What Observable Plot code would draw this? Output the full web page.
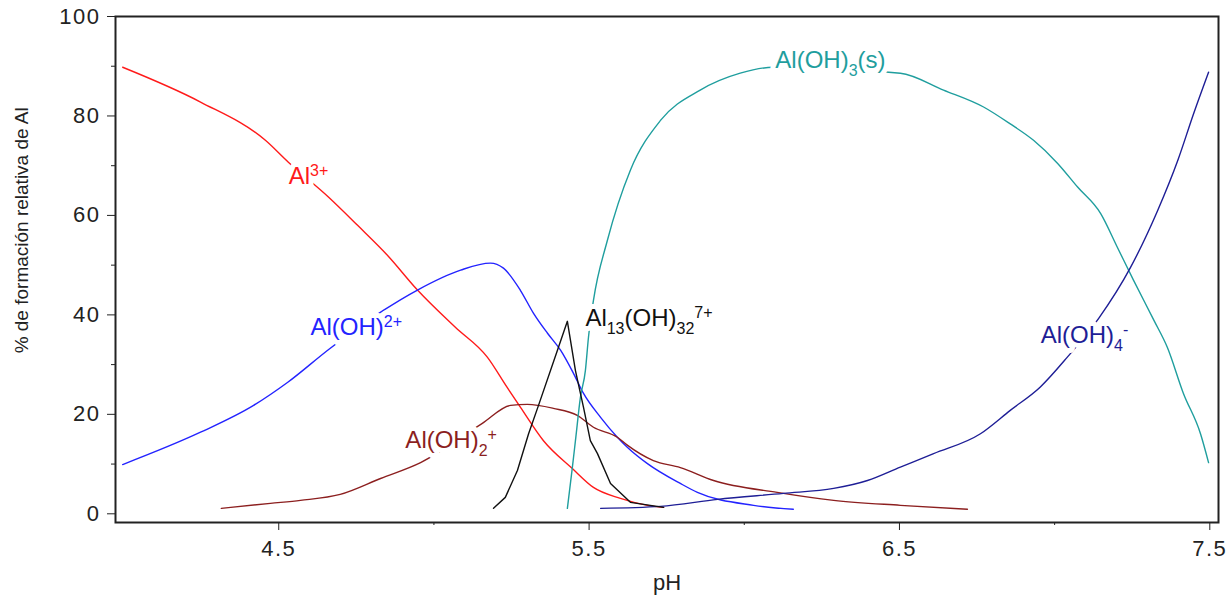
<!DOCTYPE html>
<html><head><meta charset="utf-8">
<script src="https://cdn.jsdelivr.net/npm/d3@7"></script>
<script src="https://cdn.jsdelivr.net/npm/@observablehq/plot@0.6"></script>
<style>body{margin:0;background:#fff;}</style>
</head><body><div id="chart"></div>
<script>
// ---- data (pH, % relative formation) ----
const speciesNames = ["Al3+", "AlOH2+", "Al(OH)2+", "Al13", "Al(OH)3(s)", "Al(OH)4-"];
const speciesColors = ["#ff1a1a", "#2323ff", "#8c1f1f", "#111111", "#1f9e9e", "#1e1e96"];

const phAl3  = [3.997, 4.248, 4.457, 4.531, 4.660, 4.754, 4.850, 4.947, 5.069, 5.172, 5.236, 5.279, 5.353, 5.446, 5.514, 5.601, 5.688, 5.740];
const pctAl3 = [89.8, 82.8, 75.1, 70.7, 63.7, 58.0, 52.0, 45.0, 37.5, 31.5, 25.4, 21.4, 14.7, 9.1, 5.3, 3.1, 1.7, 1.3];

const phAlOH  = [3.997, 4.248, 4.419, 4.528, 4.664, 4.837, 4.947, 5.086, 5.182, 5.224, 5.279, 5.321, 5.366, 5.408, 5.450, 5.482, 5.537, 5.591, 5.623, 5.688, 5.794, 5.849, 6.030, 6.158];
const pctAlOH = [9.9, 16.4, 21.8, 26.4, 33.2, 40.9, 45.0, 49.0, 50.4, 49.4, 44.9, 40.3, 36.3, 32.9, 28.2, 24.2, 19.4, 15.4, 13.4, 10.1, 6.1, 4.3, 1.7, 0.9];

const phAlOH2  = [4.315, 4.473, 4.570, 4.698, 4.828, 4.957, 5.156, 5.247, 5.301, 5.385, 5.462, 5.514, 5.591, 5.623, 5.707, 5.794, 5.901, 6.106, 6.288, 6.503, 6.719];
const pctAlOH2 = [1.1, 2.1, 2.7, 3.9, 7.1, 10.3, 18.2, 21.8, 22.0, 21.2, 19.8, 17.4, 15.4, 13.8, 10.7, 9.3, 6.7, 4.3, 2.7, 1.7, 0.9];

const phAl13  = [5.192, 5.230, 5.269, 5.305, 5.337, 5.398, 5.430, 5.456, 5.482, 5.504, 5.527, 5.569, 5.633, 5.740];
const pctAl13 = [1.1, 3.3, 8.7, 16.1, 21.8, 32.9, 38.7, 28.8, 21.4, 14.7, 12.1, 6.1, 2.3, 1.3];

const phAlOH3s  = [5.430, 5.446, 5.456, 5.472, 5.488, 5.498, 5.514, 5.559, 5.633, 5.730, 5.858, 5.987, 6.094, 6.503, 6.642, 6.771, 6.857, 6.932, 7.009, 7.074, 7.148, 7.202, 7.254, 7.320, 7.363, 7.415, 7.470, 7.496];
const pctAlOH3s = [1.1, 9.3, 14.7, 23.4, 28.8, 35.5, 42.9, 55.0, 69.1, 79.1, 85.2, 88.6, 89.8, 88.6, 85.2, 81.8, 78.4, 75.1, 70.5, 65.7, 60.4, 53.6, 47.0, 38.9, 33.5, 24.2, 16.1, 10.3];

const phAlOH4  = [5.537, 5.730, 5.914, 6.126, 6.288, 6.397, 6.503, 6.610, 6.761, 6.857, 6.954, 7.041, 7.142, 7.245, 7.332, 7.397, 7.448, 7.496];
const pctAlOH4 = [1.1, 1.5, 2.9, 4.1, 5.1, 6.7, 9.4, 12.1, 16.1, 20.8, 25.5, 31.5, 39.3, 49.6, 61.0, 71.1, 80.5, 88.8];

// in-plot labels (^{..} superscript, _{..} subscript)
const labelText = ["Al^{3+}", "Al(OH)^{2+}", "Al(OH)_{2}^{+}", "Al_{13}(OH)_{32}^{7+}", "Al(OH)_{3}(s)", "Al(OH)_{4}^{-}"];
const labelPH   = [4.532, 4.602, 4.908, 5.488, 6.100, 6.955];
const labelPct  = [67.9, 37.4, 14.7, 39.4, 91.1, 35.8];

const xMajorTicks = [4.5, 5.5, 6.5, 7.5];
const xMinorTicks = [5.0, 6.0, 7.0];
const yMajorTicks = [0, 20, 40, 60, 80, 100];
const yMinorTicks = [10, 30, 50, 70, 90];

// ---- build tables ----
const seriesPH  = [phAl3, phAlOH, phAlOH2, phAl13, phAlOH3s, phAlOH4];
const seriesPct = [pctAl3, pctAlOH, pctAlOH2, pctAl13, pctAlOH3s, pctAlOH4];
const rows = [];
seriesPH.forEach((arr, s) => arr.forEach((p, i) => rows.push({species: speciesNames[s], ph: p, pct: seriesPct[s][i]})));
const smoothRows = rows.filter(d => d.species !== "Al13");
const peakRows = rows.filter(d => d.species === "Al13");
const labels = labelText.map((t, i) => ({text: t, ph: labelPH[i], pct: labelPct[i], species: speciesNames[i]}));

const font = "'Liberation Sans', Arial, Helvetica, sans-serif";

const plot = Plot.plot({
  width: 1231, height: 596,
  marginLeft: 115, marginRight: 13, marginTop: 16, marginBottom: 74,
  style: {fontFamily: font, background: "#fff", color: "#222", overflow: "visible"},
  x: {domain: [3.974, 7.528], label: null},
  y: {domain: [-1.75, 100], label: null},
  color: {domain: speciesNames, range: speciesColors},
  marks: [
    Plot.lineY(smoothRows, {x: "ph", y: "pct", z: "species", stroke: "species", strokeWidth: 1.4, curve: "monotone-x"}),
    Plot.lineY(peakRows, {x: "ph", y: "pct", z: "species", stroke: "species", strokeWidth: 1.4, curve: "linear"}),
    Plot.axisY({ticks: yMajorTicks, tickSize: 8, tickPadding: 7, fontSize: 22, label: null}),
    Plot.axisY({ticks: yMinorTicks, tickSize: 4, text: null, label: null}),
    Plot.axisX({ticks: xMajorTicks, tickSize: 8, tickPadding: 10, fontSize: 22, tickFormat: d => d.toFixed(1), label: null}),
    Plot.axisX({ticks: xMinorTicks, tickSize: 3, text: null, label: null}),
    Plot.frame({stroke: "#222", strokeWidth: 2}),
    // white halo (gap in the curves behind each label)
    Plot.text(labels, {x: "ph", y: "pct", text: "text", fill: "white", textAnchor: "start", fontSize: 24,
      stroke: "white", strokeWidth: 10, strokeLinejoin: "round"}),
    // coloured label
    Plot.text(labels, {x: "ph", y: "pct", text: "text", fill: "species", textAnchor: "start", fontSize: 24}),
    Plot.text(["pH"], {frameAnchor: "bottom", dy: 52, lineAnchor: "top", fontSize: 22, fill: "#222"}),
    Plot.text(["% de formación relativa de Al"], {frameAnchor: "left", y: [57], dx: -94, rotate: -90, textAnchor: "middle", fontSize: 19, fill: "#222"})
  ]
});

// tick label letter spacing
plot.querySelectorAll("g[aria-label*='tick label'] text").forEach(t => t.setAttribute("letter-spacing", "1.5"));

// rich text (super/subscripts) for chemical labels
function richify(el) {
  const s = el.textContent;
  if (!/[\^_]\{/.test(s)) return;
  el.textContent = "";
  const re = /([\^_])\{([^}]*)\}|([^\^_]+)/g;
  let m, shift = 0;
  while ((m = re.exec(s))) {
    const ts = document.createElementNS("http://www.w3.org/2000/svg", "tspan");
    let target = 0, txt;
    if (m[1]) { target = m[1] === "^" ? -8 : 8; txt = m[2]; ts.setAttribute("font-size", "16"); }
    else { txt = m[3]; }
    if (target !== shift) ts.setAttribute("dy", target - shift);
    shift = target;
    ts.textContent = txt;
    el.appendChild(ts);
  }
}
plot.querySelectorAll("text").forEach(richify);

document.getElementById("chart").appendChild(plot);
</script>
</body></html>
